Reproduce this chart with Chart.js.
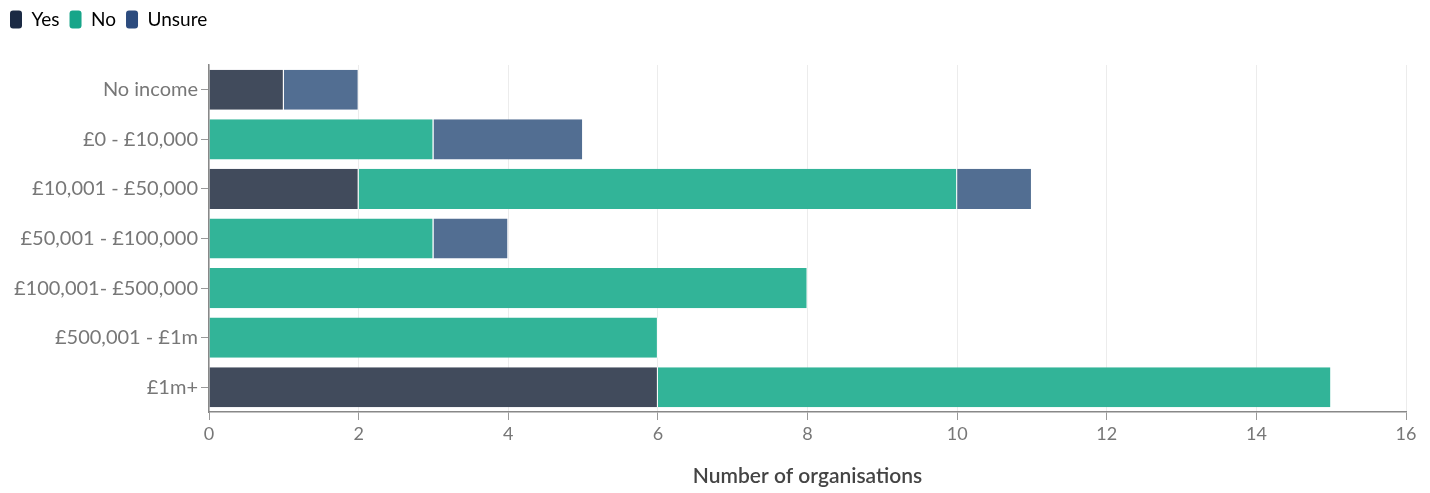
<!DOCTYPE html>
<html>
<head>
<meta charset="utf-8">
<script src="https://cdn.jsdelivr.net/npm/chart.js@4"></script>
<style>
html,body{margin:0;padding:0;background:#fff;}
#wrap{width:1430px;height:493px;position:relative;}
</style>
</head>
<body>
<div id="wrap"><canvas id="c"></canvas></div>
<script>
const categories = ["No income", "£0 - £10,000", "£10,001 - £50,000", "£50,001 - £100,000", "£100,001- £500,000", "£500,001 - £1m", "£1m+"];
const yesValues = [1, 0, 2, 0, 0, 0, 6];
const noValues = [0, 3, 8, 3, 8, 6, 9];
const unsureValues = [1, 2, 1, 1, 0, 0, 0];
const xTicks = [0, 2, 4, 6, 8, 10, 12, 14, 16];
const seriesNames = ["Yes", "No", "Unsure"];

const barColors = ["rgba(65,75,92,1)", "rgba(50,180,152,1)", "rgba(82,110,146,1)"];
const legendColors = ["#1b2a44", "#17a589", "#2c4b7e"];
const FONT = "Lato, 'Open Sans', sans-serif";

const ds = [yesValues, noValues, unsureValues].map((vals, i) => ({
  label: seriesNames[i],
  data: vals,
  backgroundColor: barColors[i],
  borderColor: "#ffffff",
  borderWidth: {left: 0, right: 1, top: 0, bottom: 0},
  borderSkipped: false,
  categoryPercentage: 0.9,
  barPercentage: 0.9
}));

const legendHeightPlugin = {
  id: "legendHeight",
  afterInit(chart) {
    const lg = chart.legend;
    if (!lg) return;
    const fit = lg.fit;
    lg.fit = function () { fit.call(this); this.height = 65; };
  }
};

new Chart(document.getElementById("c"), {
  type: "bar",
  data: {labels: categories, datasets: ds},
  plugins: [legendHeightPlugin],
  options: {
    indexAxis: "y",
    responsive: true,
    maintainAspectRatio: false,
    animation: false,
    layout: {padding: {left: 0, right: 24, top: 0, bottom: 0}},
    plugins: {
      tooltip: {enabled: false},
      legend: {
        position: "top",
        align: "start",
        labels: {
          font: {family: FONT, size: 19},
          color: "#444",
          boxWidth: 12,
          boxHeight: 18,
          useBorderRadius: true,
          borderRadius: 3,
          padding: 10,
          generateLabels: (chart) => chart.data.datasets.map((d, i) => ({
            text: d.label,
            fillStyle: legendColors[i],
            strokeStyle: legendColors[i],
            lineWidth: 0,
            borderRadius: 3,
            datasetIndex: i,
            hidden: false
          }))
        }
      }
    },
    scales: {
      x: {
        stacked: true,
        min: 0,
        max: 16,
        afterBuildTicks: (s) => { s.ticks = xTicks.map(v => ({value: v})); },
        afterFit: (s) => { s.height = 81; },
        ticks: {font: {family: FONT, size: 18}, color: "#777", padding: 3},
        grid: {color: "#ececec", tickColor: "#999", tickLength: 8, drawTicks: true},
        border: {color: "#888", width: 1.5},
        title: {display: true, text: "Number of organisations", font: {family: FONT, size: 21, weight: "600"}, color: "#444", padding: {top: 22}}
      },
      y: {
        stacked: true,
        afterFit: (s) => { s.width = 209; },
        ticks: {font: {family: FONT, size: 20}, color: "#777", padding: 3},
        grid: {drawOnChartArea: false, offset: false, tickColor: "#999", tickLength: 8},
        border: {color: "#888", width: 1.5}
      }
    }
  }
});
</script>
</body>
</html>
